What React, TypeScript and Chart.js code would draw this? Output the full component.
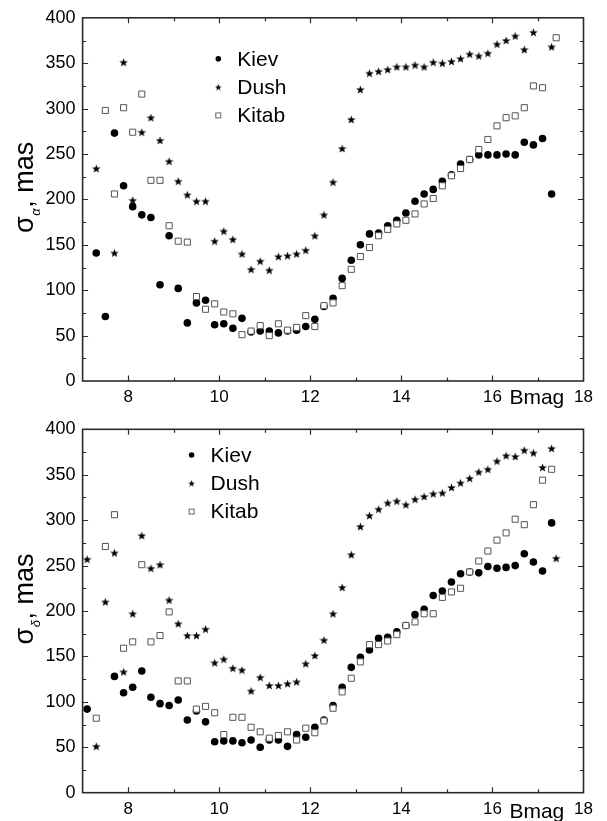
import React, { useEffect, useRef } from "react";
import { Chart, registerables } from "chart.js";

Chart.register(...registerables);

// ---------- Top panel: sigma alpha ----------
const alphaKievMag = [7.3, 7.5, 7.7, 7.9, 8.1, 8.3, 8.5, 8.7, 8.9, 9.1, 9.3, 9.5, 9.7, 9.9, 10.1, 10.3, 10.5, 10.7, 10.9, 11.1, 11.3, 11.5, 11.7, 11.9, 12.1, 12.3, 12.5, 12.7, 12.9, 13.1, 13.3, 13.5, 13.7, 13.9, 14.1, 14.3, 14.5, 14.7, 14.9, 15.1, 15.3, 15.5, 15.7, 15.9, 16.1, 16.3, 16.5, 16.7, 16.9, 17.1, 17.3];
const alphaKievVal = [141, 71, 273, 215, 192, 183, 180, 106, 160, 102, 64, 86, 89, 62, 63, 58, 69, 54, 55, 55, 53, 55, 56, 60, 68, 82, 91, 113, 133, 150, 162, 163, 171, 177, 185, 198, 206, 211, 220, 227, 239, 244, 249, 249, 249, 250, 249, 263, 260, 267, 206];

const alphaDushMag = [7.3, 7.7, 7.9, 8.1, 8.3, 8.5, 8.7, 8.9, 9.1, 9.3, 9.5, 9.7, 9.9, 10.1, 10.3, 10.5, 10.7, 10.9, 11.1, 11.3, 11.5, 11.7, 11.9, 12.1, 12.3, 12.5, 12.7, 12.9, 13.1, 13.3, 13.5, 13.7, 13.9, 14.1, 14.3, 14.5, 14.7, 14.9, 15.1, 15.3, 15.5, 15.7, 15.9, 16.1, 16.3, 16.5, 16.7, 16.9, 17.3];
const alphaDushVal = [234, 141, 351, 199, 274, 290, 265, 242, 220, 205, 198, 198, 154, 165, 156, 140, 123, 132, 122, 137, 138, 140, 144, 160, 183, 219, 256, 288, 321, 339, 341, 343, 346, 346, 348, 346, 351, 350, 352, 355, 360, 358, 361, 371, 375, 380, 365, 384, 368];

const alphaKitabMag = [7.5, 7.7, 7.9, 8.1, 8.3, 8.5, 8.7, 8.9, 9.1, 9.3, 9.5, 9.7, 9.9, 10.1, 10.3, 10.5, 10.7, 10.9, 11.1, 11.3, 11.5, 11.7, 11.9, 12.1, 12.3, 12.5, 12.7, 12.9, 13.1, 13.3, 13.5, 13.7, 13.9, 14.1, 14.3, 14.5, 14.7, 14.9, 15.1, 15.3, 15.5, 15.7, 15.9, 16.1, 16.3, 16.5, 16.7, 16.9, 17.1, 17.4];
const alphaKitabVal = [298, 206, 301, 274, 316, 221, 221, 171, 154, 153, 93, 79, 85, 76, 74, 51, 55, 61, 50, 63, 56, 59, 72, 60, 83, 86, 105, 123, 137, 147, 160, 167, 173, 177, 184, 195, 201, 215, 226, 234, 244, 255, 266, 281, 290, 292, 301, 325, 323, 378];

// ---------- Bottom panel: sigma delta ----------
const deltaKievMag = [7.1, 7.7, 7.9, 8.1, 8.3, 8.5, 8.7, 8.9, 9.1, 9.3, 9.5, 9.7, 9.9, 10.1, 10.3, 10.5, 10.7, 10.9, 11.1, 11.3, 11.5, 11.7, 11.9, 12.1, 12.3, 12.5, 12.7, 12.9, 13.1, 13.3, 13.5, 13.7, 13.9, 14.1, 14.3, 14.5, 14.7, 14.9, 15.1, 15.3, 15.5, 15.7, 15.9, 16.1, 16.3, 16.5, 16.7, 16.9, 17.1, 17.3];
const deltaKievVal = [92, 128, 110, 116, 134, 105, 98, 96, 102, 80, 90, 78, 56, 57, 57, 55, 58, 50, 58, 58, 51, 64, 61, 72, 80, 96, 116, 138, 149, 157, 170, 171, 177, 184, 196, 202, 217, 222, 232, 241, 243, 242, 249, 247, 248, 250, 263, 254, 244, 297];

const deltaDushMag = [7.1, 7.3, 7.5, 7.7, 7.9, 8.1, 8.3, 8.5, 8.7, 8.9, 9.1, 9.3, 9.5, 9.7, 9.9, 10.1, 10.3, 10.5, 10.7, 10.9, 11.1, 11.3, 11.5, 11.7, 11.9, 12.1, 12.3, 12.5, 12.7, 12.9, 13.1, 13.3, 13.5, 13.7, 13.9, 14.1, 14.3, 14.5, 14.7, 14.9, 15.1, 15.3, 15.5, 15.7, 15.9, 16.1, 16.3, 16.5, 16.7, 16.9, 17.1, 17.3, 17.4];
const deltaDushVal = [257, 51, 210, 264, 133, 197, 283, 247, 251, 212, 186, 173, 173, 180, 143, 147, 137, 135, 112, 127, 118, 118, 120, 122, 142, 151, 168, 197, 226, 262, 293, 305, 312, 319, 321, 317, 323, 326, 329, 330, 336, 341, 346, 353, 356, 365, 371, 370, 377, 374, 358, 379, 258];

const deltaKitabMag = [7.3, 7.5, 7.7, 7.9, 8.1, 8.3, 8.5, 8.7, 8.9, 9.1, 9.3, 9.5, 9.7, 9.9, 10.1, 10.3, 10.5, 10.7, 10.9, 11.1, 11.3, 11.5, 11.7, 11.9, 12.1, 12.3, 12.5, 12.7, 12.9, 13.1, 13.3, 13.5, 13.7, 13.9, 14.1, 14.3, 14.5, 14.7, 14.9, 15.1, 15.3, 15.5, 15.7, 15.9, 16.1, 16.3, 16.5, 16.7, 16.9, 17.1, 17.3];
const deltaKitabVal = [82, 271, 306, 159, 166, 251, 166, 173, 199, 123, 123, 92, 95, 88, 64, 83, 83, 72, 67, 60, 63, 67, 58, 71, 66, 79, 93, 111, 126, 144, 163, 163, 167, 174, 184, 188, 197, 197, 215, 221, 225, 243, 255, 266, 278, 286, 301, 295, 317, 344, 356];

// ---------- Axes ----------
const seriesLabels = ["Kiev", "Dush", "Kitab"];
const xTickLabels = [8, 10, 12, 14, 16, 18];
const xRange = [7, 18];
const yRange = [0, 400];
const yStep = 50;
const xAxisName = "Bmag";

const FONT = '"Liberation Sans", Arial, sans-serif';

function pts(m: number[], v: number[]) {
  return m.map((x, i) => ({ x, y: v[i] }));
}

function makeStar(size: number) {
  const c = document.createElement("canvas");
  c.width = size;
  c.height = size;
  const ctx = c.getContext("2d")!;
  const R = size / 2;
  const r = R * 0.42;
  const cx = size / 2;
  const cy = size / 2 + R * 0.1;
  ctx.beginPath();
  for (let i = 0; i < 10; i++) {
    const a = -Math.PI / 2 + (i * Math.PI) / 5;
    const rad = i % 2 === 0 ? R : r;
    ctx.lineTo(cx + rad * Math.cos(a), cy + rad * Math.sin(a));
  }
  ctx.closePath();
  ctx.fillStyle = "#000";
  ctx.fill();
  return c;
}

type PanelProps = {
  top: number;
  height: number;
  padTop: number;
  xAxisHeight: number;
  sub: string;
  nameDy: number;
  kiev: { x: number; y: number }[];
  dush: { x: number; y: number }[];
  kitab: { x: number; y: number }[];
  legendDx: number;
  legendDy: number;
};

function Panel(p: PanelProps) {
  const ref = useRef<HTMLCanvasElement | null>(null);
  useEffect(() => {
    if (!ref.current) return;
    const star = makeStar(9);
    const starSmall = makeStar(7);

    const decorPlugin = {
      id: "decor",
      afterDatasetsDraw(chart: any) {
        const { ctx, chartArea: a, scales } = chart;
        const xs = scales.x;
        const ys = scales.y;
        ctx.save();
        ctx.strokeStyle = "#2b2b2b";
        ctx.lineWidth = 1.2;
        ctx.beginPath();
        for (let v = Math.ceil(xRange[0] + 1); v < xRange[1]; v++) {
          const px = Math.round(xs.getPixelForValue(v)) + 0.5;
          const len = v % 2 === 0 ? 5.5 : 3.5;
          ctx.moveTo(px, a.bottom);
          ctx.lineTo(px, a.bottom - len);
          ctx.moveTo(px, a.top);
          ctx.lineTo(px, a.top + len);
        }
        for (let v = yRange[0] + yStep / 2; v < yRange[1]; v += yStep / 2) {
          const py = Math.round(ys.getPixelForValue(v)) + 0.5;
          const len = v % yStep === 0 ? 5.5 : 3.5;
          ctx.moveTo(a.left, py);
          ctx.lineTo(a.left + len, py);
          ctx.moveTo(a.right, py);
          ctx.lineTo(a.right - len, py);
        }
        ctx.stroke();
        ctx.lineWidth = 1.6;
        ctx.strokeRect(a.left, a.top, a.right - a.left, a.bottom - a.top);

        // legend
        const lx = a.left + p.legendDx;
        const ly = a.top + p.legendDy;
        const gap = 28.3;
        ctx.fillStyle = "#000";
        ctx.beginPath();
        ctx.arc(lx, ly, 2.8, 0, Math.PI * 2);
        ctx.fill();
        ctx.drawImage(starSmall, lx - 3.5, ly + gap - 3.5);
        ctx.fillStyle = "#fff";
        ctx.strokeStyle = "#666";
        ctx.lineWidth = 1;
        ctx.fillRect(lx - 2.5, ly + 2 * gap - 2.5, 5, 5);
        ctx.strokeRect(lx - 2.5, ly + 2 * gap - 2.5, 5, 5);
        ctx.fillStyle = "#000";
        ctx.font = `21px ${FONT}`;
        ctx.textBaseline = "middle";
        ctx.textAlign = "left";
        seriesLabels.forEach((t, i) => ctx.fillText(t, lx + 19, ly + i * gap + 1));

        // x axis name
        ctx.font = `21px ${FONT}`;
        ctx.textBaseline = "alphabetic";
        ctx.fillText(xAxisName, xs.getPixelForValue(16) + 17, a.bottom + p.nameDy);

        // y axis title with subscript
        const cy = (a.top + a.bottom) / 2 - 12;
        ctx.translate(33, cy);
        ctx.rotate(-Math.PI / 2);
        const big = `27px ${FONT}`;
        const small = `italic 13px ${FONT}`;
        ctx.font = big;
        const w1 = ctx.measureText("σ").width;
        const w3 = ctx.measureText(", mas").width;
        ctx.font = small;
        const w2 = ctx.measureText(p.sub).width + 1;
        const x0 = -(w1 + w2 + w3) / 2;
        ctx.font = big;
        ctx.fillText("σ", x0, 0);
        ctx.font = small;
        ctx.fillText(p.sub, x0 + w1 + 0.5, 6.5);
        ctx.font = big;
        ctx.fillText(", mas", x0 + w1 + w2, 0);
        ctx.restore();
      },
    };

    const chart = new Chart(ref.current, {
      type: "scatter",
      data: {
        datasets: [
          {
            label: seriesLabels[0],
            data: p.kiev,
            pointStyle: "circle",
            pointRadius: 3.8,
            pointHoverRadius: 3.8,
            backgroundColor: "#000",
            borderColor: "#000",
            borderWidth: 0,
            order: 3,
          },
          {
            label: seriesLabels[1],
            data: p.dush,
            pointStyle: star as any,
            pointRadius: 4.5,
            backgroundColor: "#000",
            borderColor: "#000",
            order: 2,
          },
          {
            label: seriesLabels[2],
            data: p.kitab,
            pointStyle: "rect",
            pointRadius: 4.3,
            pointHoverRadius: 4.3,
            backgroundColor: "#fff",
            borderColor: "#555",
            borderWidth: 1,
            order: 1,
          },
        ],
      },
      options: {
        animation: false,
        responsive: false,
        events: [],
        layout: { padding: { left: 0, right: 23.5, top: p.padTop, bottom: 0 } },
        plugins: { legend: { display: false }, tooltip: { enabled: false } },
        scales: {
          x: {
            type: "linear",
            min: xRange[0],
            max: xRange[1],
            grid: { display: false, drawTicks: false },
            border: { display: false },
            afterBuildTicks: (s: any) => {
              s.ticks = xTickLabels.map((v) => ({ value: v }));
            },
            afterFit: (s: any) => {
              s.height = p.xAxisHeight;
            },
            ticks: {
              autoSkip: false,
              maxRotation: 0,
              padding: 6,
              color: "#000",
              font: { family: FONT, size: 17 },
            },
          },
          y: {
            type: "linear",
            min: yRange[0],
            max: yRange[1],
            grid: { display: false, drawTicks: false },
            border: { display: false },
            afterFit: (s: any) => {
              s.width = 82.6;
            },
            ticks: {
              stepSize: yStep,
              padding: 7,
              color: "#000",
              font: { family: FONT, size: 18 },
            },
          },
        },
      },
      plugins: [decorPlugin],
    });
    return () => chart.destroy();
  }, []);

  return (
    <canvas
      ref={ref}
      width={607}
      height={p.height}
      style={{ position: "absolute", left: 0, top: p.top, width: 607, height: p.height }}
    />
  );
}

export default function App() {
  return (
    <div style={{ position: "absolute", left: 0, top: 0, width: 607, height: 821, background: "#fff" }}>
      <Panel
        top={0}
        height={412}
        padTop={15}
        xAxisHeight={31}
        sub="α"
        nameDy={23}
        kiev={pts(alphaKievMag, alphaKievVal)}
        dush={pts(alphaDushMag, alphaDushVal)}
        kitab={pts(alphaKitabMag, alphaKitabVal)}
        legendDx={135.7}
        legendDy={41}
      />
      <Panel
        top={405}
        height={416}
        padTop={24.3}
        xAxisHeight={28.3}
        sub="δ"
        nameDy={25}
        kiev={pts(deltaKievMag, deltaKievVal)}
        dush={pts(deltaDushMag, deltaDushVal)}
        kitab={pts(deltaKitabMag, deltaKitabVal)}
        legendDx={109}
        legendDy={25.7}
      />
    </div>
  );
}
